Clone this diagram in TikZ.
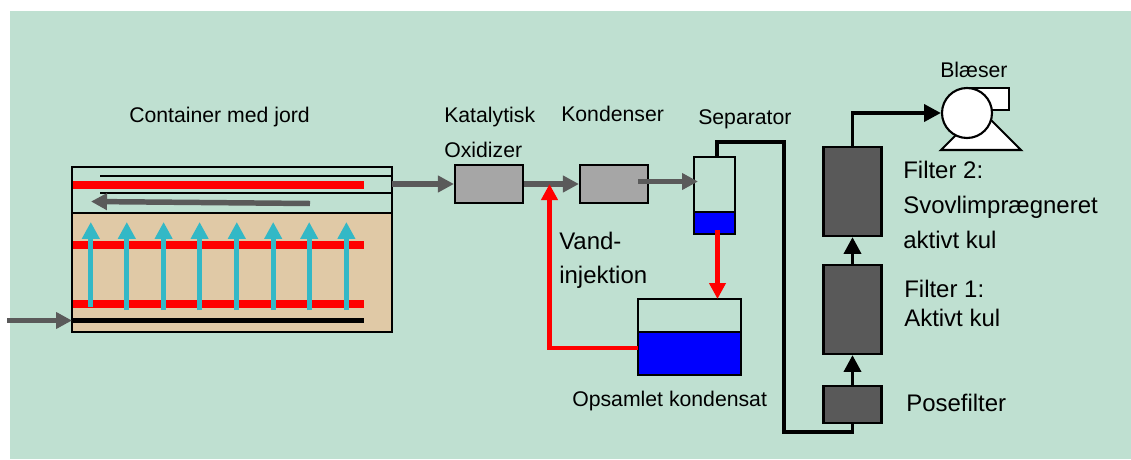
\documentclass[tikz,border=0pt]{standalone}
\usepackage{fontspec}
\setmainfont{Liberation Sans}
\usetikzlibrary{arrows.meta}
\definecolor{bgGreen}{RGB}{191,224,209}
\definecolor{soilTan}{RGB}{224,201,166}
\definecolor{airTeal}{RGB}{51,184,198}
\definecolor{pipeGrey}{RGB}{90,90,90}
\definecolor{unitGrey}{RGB}{166,166,166}
\definecolor{filterDark}{RGB}{89,89,89}
\definecolor{waterBlue}{RGB}{0,0,255}
\definecolor{hotRed}{RGB}{255,0,0}

\begin{document}
\begin{tikzpicture}[
  lbl/.style={
    anchor=base west,
    inner sep=0pt,
    font=\fontsize{15.1}{18}\selectfont,
  },
  lblbig/.style={
    lbl,
    font=\fontsize{17.05}{20}\selectfont,
  },
  unit/.style={
    draw=black,
    fill=unitGrey,
    line width=1.5pt,
    inner sep=0pt,
    minimum width=17mm,
    minimum height=9.5mm,
  },
  filterbox/.style={
    draw=black,
    fill=filterDark,
    line width=1.5pt,
    inner sep=0pt,
    minimum width=14.5mm,
    minimum height=22.25mm,
  },
  vessel/.style={
    draw=black,
    fill=bgGreen,
    line width=1.5pt,
    inner sep=0pt,
  },
  water/.style={
    vessel,
    fill=waterBlue,
  },
  gas/.style={
    -{Triangle[length=4mm,width=4mm]},
    pipeGrey,
    line width=3.9pt,
  },
  drain/.style={
    -{Triangle[length=4mm,width=4mm]},
    hotRed,
    line width=3pt,
  },
  pipe/.style={
    black,
    line width=2.8pt,
  },
  pipetip/.style={
    pipe,
    -{Triangle[length=4.2mm,width=4.2mm]},
  },
  rise/.style={
    -{Triangle[length=4.2mm,width=4.2mm]},
    airTeal,
    line width=3.7pt,
  },
  heater/.style={
    hotRed,
    line width=5.7pt,
  },
]

  \path[use as bounding box] (0,0) rectangle (28.275,11.475);
  \fill[bgGreen] (0.25,0) rectangle (28.275,11.2);

  % container
  \node[draw=black, fill=soilTan, line width=2pt, inner sep=0pt,
        minimum width=80mm, minimum height=29.75mm] (soil) at (5.8,4.6625) {};

  \coordinate (h1a) at (1.8,6.85);
  \coordinate (h1b) at (9.1,6.85);
  \coordinate (h2a) at (1.8,5.35);
  \coordinate (h2b) at (9.1,5.35);
  \coordinate (h3a) at (1.8,3.875);
  \coordinate (h3b) at (9.1,3.875);
  \draw[heater] (h1a) -- (h1b);
  \draw[heater] (h2a) -- (h2b);
  \draw[heater] (h3a) -- (h3b);

  \coordinate (d1a) at (2.5,7.075);
  \coordinate (d1b) at (9.8,7.075);
  \coordinate (d2a) at (2.5,6.65);
  \coordinate (d2b) at (9.8,6.65);
  \draw[black, line width=1.6pt] (d1a) -- (d1b);
  \draw[black, line width=1.6pt] (d2a) -- (d2b);

  \coordinate (ret1) at (7.75,6.3875);
  \coordinate (ret2) at (2.275,6.4375);
  \draw[gas] (ret1) -- (ret2);

  \coordinate (inl1) at (1.8,3.4625);
  \coordinate (inl2) at (9.1,3.4625);
  \draw[black, line width=3.5pt] (inl1) -- (inl2);

  \node[draw=black, line width=2pt, inner sep=0pt,
        minimum width=80mm, minimum height=41.25mm] (cont) at (5.8,5.2375) {};

  \coordinate (inl0) at (0.175,3.4625);
  \draw[gas] (inl0) -- (inl1);

  \coordinate (r1a) at (2.27,3.8);
  \coordinate (r1b) at (2.27,5.925);
  \coordinate (r2a) at (3.17,3.725);
  \coordinate (r2b) at (3.17,5.925);
  \coordinate (r3a) at (4.09,3.725);
  \coordinate (r3b) at (4.09,5.925);
  \coordinate (r4a) at (4.99,3.725);
  \coordinate (r4b) at (4.99,5.925);
  \coordinate (r5a) at (5.92,3.725);
  \coordinate (r5b) at (5.92,5.925);
  \coordinate (r6a) at (6.83,3.725);
  \coordinate (r6b) at (6.83,5.925);
  \coordinate (r7a) at (7.73,3.725);
  \coordinate (r7b) at (7.73,5.925);
  \coordinate (r8a) at (8.66,3.725);
  \coordinate (r8b) at (8.66,5.925);
  \draw[rise] (r1a) -- (r1b);
  \draw[rise] (r2a) -- (r2b);
  \draw[rise] (r3a) -- (r3b);
  \draw[rise] (r4a) -- (r4b);
  \draw[rise] (r5a) -- (r5b);
  \draw[rise] (r6a) -- (r6b);
  \draw[rise] (r7a) -- (r7b);
  \draw[rise] (r8a) -- (r8b);

  \node[lbl] (contlbl) at (3.225,8.425) {Container med jord};

  % oxidizer and condenser
  \node[unit] (oxid) at (12.225,6.875) {};
  \node[unit] (kond) at (15.35,6.875) {};
  \node[lbl] (oxlbl1) at (11.1,8.425) {Katalytisk};
  \node[lbl] (oxlbl2) at (11.1,7.55) {Oxidizer};
  \node[lbl] (kondlbl) at (14.025,8.45) {Kondenser};

  \coordinate (contout) at (9.8,6.875);
  \draw[gas] (contout) -- (oxid.west);
  \draw[gas] (oxid.east) -- (kond.west);

  % separator and tank
  \node[vessel, minimum width=10.25mm, minimum height=19.25mm] (sep) at (17.8625,6.5875) {};
  \node[water, minimum width=10.25mm, minimum height=5.5mm] (sepliq) at (17.8625,5.9) {};
  \node[lbl] (seplbl) at (17.45,8.375) {Separator};

  \node[vessel, minimum width=25.75mm, minimum height=19mm] (tank) at (17.2375,3.05) {};
  \node[water, minimum width=25.75mm, minimum height=10.75mm] (tankliq) at (17.2375,2.6375) {};
  \node[lbl] (tanklbl) at (14.3,1.325) {Opsamlet kondensat};

  \coordinate (kondout) at (15.95,6.9375);
  \coordinate (sepin) at (17.45,6.9375);
  \draw[gas] (kondout) -- (sepin);

  \coordinate (sepdrain) at (17.9375,5.725);
  \coordinate (tanktop) at (17.9375,4.0);
  \draw[drain] (sepdrain) -- (tanktop);

  \coordinate (tankout) at (15.95,2.775);
  \coordinate (inject) at (13.7375,6.875);
  \draw[drain] (tankout) -| (inject);

  \node[lblbig] (vandlbl1) at (13.975,5.25) {Vand-};
  \node[lblbig] (vandlbl2) at (13.975,4.4) {injektion};

  % filters
  \node[filterbox, minimum height=9.25mm] (pose) at (21.3125,1.3625) {};
  \node[filterbox] (filt1) at (21.3125,3.7375) {};
  \node[filterbox] (filt2) at (21.3125,6.6875) {};

  \node[lblbig] (poselbl) at (22.65,1.2) {Posefilter};
  \node[lblbig] (f1lbl1) at (22.6,4.05) {Filter 1:};
  \node[lblbig] (f1lbl2) at (22.6,3.325) {Aktivt kul};
  \node[lblbig] (f2lbl1) at (22.575,7.025) {Filter 2:};
  \node[lblbig] (f2lbl2) at (22.575,6.15) {Svovlimprægneret};
  \node[lblbig] (f2lbl3) at (22.575,5.275) {aktivt kul};

  \coordinate (septop) at (17.925,7.55);
  \draw[pipe] (septop) -- (17.925,7.925) -- (19.6,7.925) -- (19.6,0.675)
    -| (pose.south);
  \draw[pipetip] (pose.north) -- (filt1.south);
  \draw[pipetip] (filt1.north) -- (filt2.south);

  % blower
  \draw[black, fill=white, line width=1.5pt]
    (24.175,9.275) rectangle (25.225,8.725);
  \draw[black, fill=white, line width=1.5pt]
    (23.525,7.725) -- (25.525,7.725) -- (24.525,8.725) -- cycle;
  \node[circle, draw=black, fill=white, line width=1.5pt, inner sep=0pt,
        minimum size=12.5mm] (fan) at (24.175,8.65) {};
  \node[lbl] (fanlbl) at (23.5,9.55) {Blæser};
  \draw[pipetip] (filt2.north) |- (fan.west);

\end{tikzpicture}
\end{document}
